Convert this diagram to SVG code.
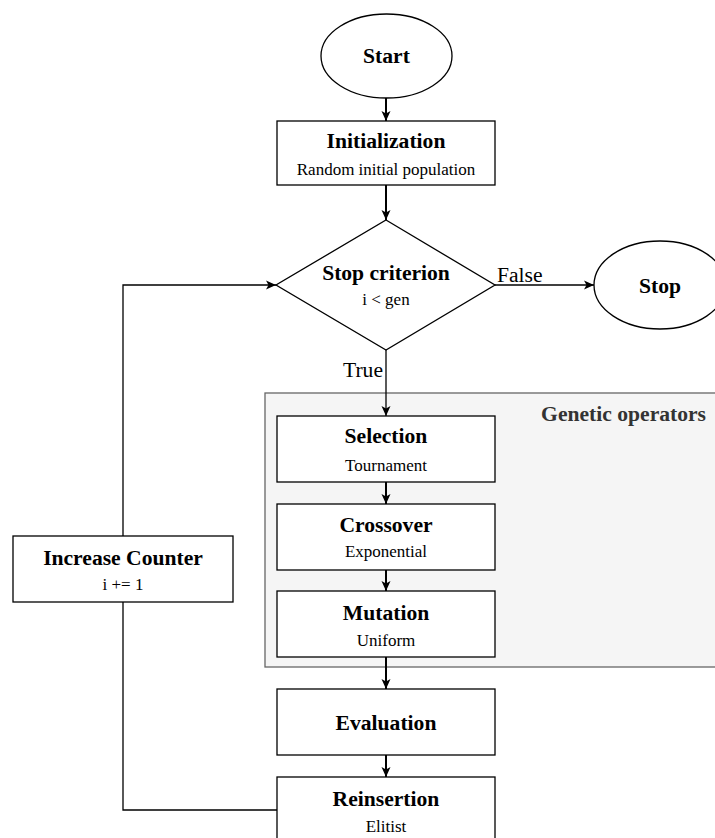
<svg xmlns="http://www.w3.org/2000/svg" width="715" height="838" viewBox="0 0 715 838">
<style>
.node{fill:#fff;stroke:#000;stroke-width:1.3}
.grp{fill:#f5f5f5;stroke:#666;stroke-width:1.3}
.t{font-family:"Liberation Serif","Times New Roman",serif;font-weight:bold;font-size:21.6px;fill:#000;text-anchor:middle}
.s{font-family:"Liberation Serif","Times New Roman",serif;font-size:17px;fill:#000;text-anchor:middle}
.lbl{font-family:"Liberation Serif","Times New Roman",serif;font-size:21.6px;fill:#000}
.edge{fill:none;stroke:#000;stroke-width:1.3}
.thick{stroke-width:2}
</style>
<defs>
<marker id="arr" viewBox="0 0 10 10" refX="10" refY="5" markerWidth="10" markerHeight="10" markerUnits="userSpaceOnUse" orient="auto">
<path d="M0,0.5 L10,5 L0,9.5 L2.5,5 z" fill="#000"/>
</marker>
</defs>
<g id="genetic-operators">
<rect class="grp" x="265" y="393" width="460" height="274"/>
<text class="t" x="706" y="421" style="text-anchor:end;fill:#333">Genetic operators</text>
</g>
<g id="connectors">
<line class="edge thick" x1="386" y1="98" x2="386" y2="121" marker-end="url(#arr)"/>
<line class="edge thick" x1="386" y1="185" x2="386" y2="220" marker-end="url(#arr)"/>
<line class="edge" x1="495" y1="285" x2="594" y2="285" marker-end="url(#arr)"/>
<line class="edge" x1="386" y1="350" x2="386" y2="416" marker-end="url(#arr)"/>
<line class="edge thick" x1="386" y1="482" x2="386" y2="504" marker-end="url(#arr)"/>
<line class="edge thick" x1="386" y1="570" x2="386" y2="591" marker-end="url(#arr)"/>
<line class="edge thick" x1="386" y1="657" x2="386" y2="689" marker-end="url(#arr)"/>
<line class="edge thick" x1="386" y1="755" x2="386" y2="777" marker-end="url(#arr)"/>
<polyline class="edge" points="277,810 123,810 123,602"/>
<polyline class="edge" points="123,536 123,285 276,285" marker-end="url(#arr)"/>
<text class="lbl" x="497" y="282">False</text>
<text class="lbl" x="383" y="377" text-anchor="end">True</text>
</g>
<g id="start">
<ellipse class="node" cx="386.5" cy="56" rx="65.5" ry="42"/>
<text class="t" x="386.5" y="63">Start</text>
</g>
<g id="initialization">
<rect class="node" x="277" y="121" width="218" height="64"/>
<text class="t" x="386" y="148">Initialization</text>
<text class="s" x="386" y="175">Random initial population</text>
</g>
<g id="stop-criterion">
<polygon class="node" points="386,220 495,285 386,350 276,285"/>
<text class="t" x="386" y="280">Stop criterion</text>
<text class="s" x="386" y="305">i &lt; gen</text>
</g>
<g id="stop">
<ellipse class="node" cx="660" cy="285" rx="66" ry="44"/>
<text class="t" x="660" y="293">Stop</text>
</g>
<g id="selection">
<rect class="node" x="277" y="416" width="218" height="66"/>
<text class="t" x="386" y="443">Selection</text>
<text class="s" x="386" y="471">Tournament</text>
</g>
<g id="crossover">
<rect class="node" x="277" y="504" width="218" height="66"/>
<text class="t" x="386" y="532">Crossover</text>
<text class="s" x="386" y="557">Exponential</text>
</g>
<g id="mutation">
<rect class="node" x="277" y="591" width="218" height="66"/>
<text class="t" x="386" y="620">Mutation</text>
<text class="s" x="386" y="646">Uniform</text>
</g>
<g id="evaluation">
<rect class="node" x="277" y="689" width="218" height="66"/>
<text class="t" x="386" y="730">Evaluation</text>
</g>
<g id="reinsertion">
<rect class="node" x="277" y="777" width="218" height="66"/>
<text class="t" x="386" y="806">Reinsertion</text>
<text class="s" x="386" y="832">Elitist</text>
</g>
<g id="increase-counter">
<rect class="node" x="13" y="536" width="220" height="66"/>
<text class="t" x="123" y="565">Increase Counter</text>
<text class="s" x="123" y="590">i += 1</text>
</g>
</svg>
